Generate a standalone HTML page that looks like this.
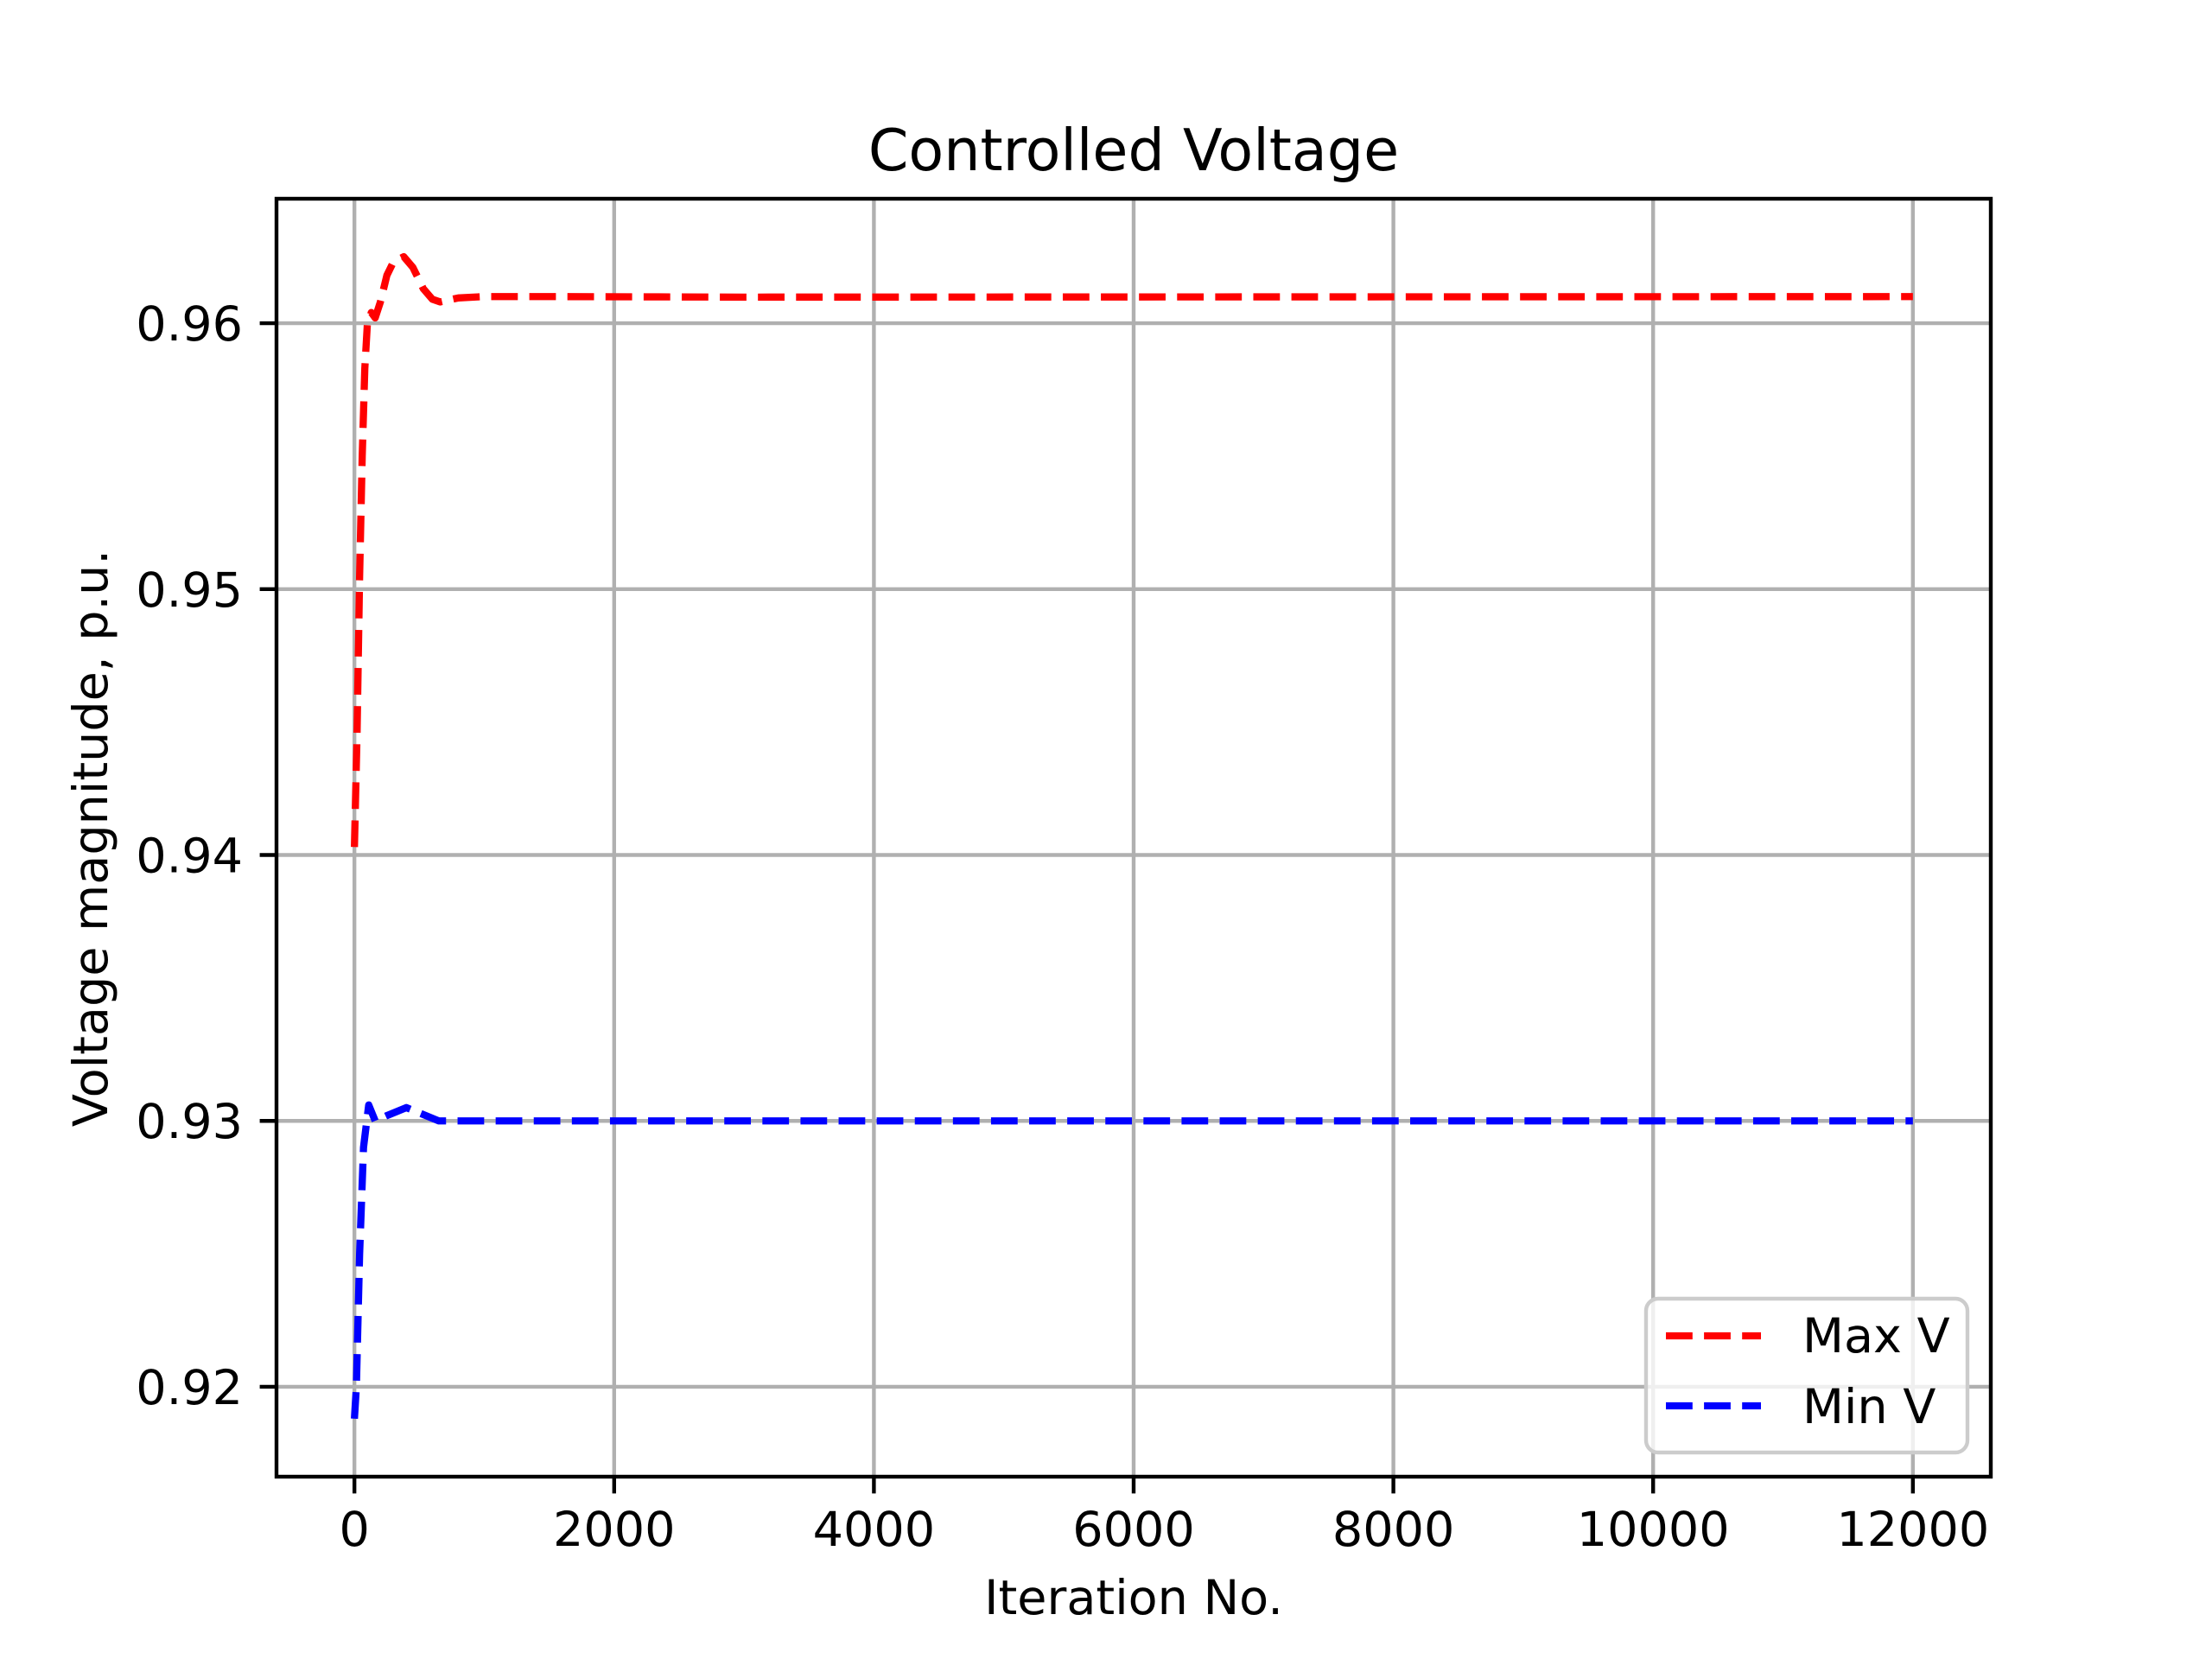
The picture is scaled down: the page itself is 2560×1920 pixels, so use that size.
<!DOCTYPE html>
<html><head><meta charset="utf-8"><style>
html,body{margin:0;padding:0;background:#fff}
svg{display:block}
text{font-family:"DejaVu Sans","Liberation Sans",sans-serif;fill:#000}
</style></head><body>
<svg id="chart" width="2560" height="1920" viewBox="0 0 2560 1920" xmlns="http://www.w3.org/2000/svg">
<rect width="2560" height="1920" fill="#fff"/>
<g id="grid"></g>
<g id="series"></g>
<rect x="320" y="230" width="1984" height="1479" fill="none" stroke="#000" stroke-width="4.4"/>
<g id="ticks"></g>
<text x="1312" y="197" font-size="66.7" text-anchor="middle">Controlled Voltage</text>
<text x="1312" y="1868" font-size="55.6" text-anchor="middle">Iteration No.</text>
<text transform="translate(124,970) rotate(-90)" font-size="55.6" text-anchor="middle">Voltage magnitude, p.u.</text>
<g>
<rect x="1905" y="1503" width="372" height="178" rx="14" fill="#fff" fill-opacity="0.8" stroke="#cccccc" stroke-width="4.4"/>
<line x1="1928" y1="1546" x2="2038" y2="1546" stroke="#ff0000" stroke-width="8.33" stroke-dasharray="30.8,13.3"/>
<text x="2086" y="1565" font-size="55.6">Max V</text>
<line x1="1928" y1="1627" x2="2038" y2="1627" stroke="#0000ff" stroke-width="8.33" stroke-dasharray="30.8,13.3"/>
<text x="2086" y="1647" font-size="55.6">Min V</text>
</g>
</svg>
<script>
const xTicks=[0,2000,4000,6000,8000,10000,12000];
const xTickLabels=["0","2000","4000","6000","8000","10000","12000"];
const yTicks=[0.92,0.93,0.94,0.95,0.96];
const yTickLabels=["0.92","0.93","0.94","0.95","0.96"];
const maxIter=[0,20,40,60,80,100,130,160,200,250,300,380,450,530,600,660,800,1000,1500,3000,12000];
const maxV=[0.9403,0.9445,0.9505,0.9550,0.9583,0.9600,0.9604,0.9602,0.9608,0.9618,0.9623,0.9625,0.9621,0.9613,0.9609,0.9608,0.96095,0.9610,0.9610,0.96098,0.9610];
const minIter=[0,15,40,70,110,160,250,400,500,650,1000,3000,12000];
const minV=[0.9188,0.9200,0.9250,0.9290,0.9306,0.9300,0.9302,0.9305,0.9303,0.9300,0.9300,0.9300,0.9300];
const X0=320,X1=2304,Y0=230,Y1=1709,xmin=-600,xmax=12600,ymin=0.91662,ymax=0.96468;
const sx=v=>X0+(v-xmin)/(xmax-xmin)*(X1-X0);
const sy=v=>Y1-(v-ymin)/(ymax-ymin)*(Y1-Y0);
const NS="http://www.w3.org/2000/svg";
const grid=document.getElementById('grid'),ticks=document.getElementById('ticks'),series=document.getElementById('series');
function mk(tag,attrs,parent){const e=document.createElementNS(NS,tag);for(const k in attrs)e.setAttribute(k,attrs[k]);parent.appendChild(e);return e;}
xTicks.forEach((t,i)=>{
  const x=sx(t);
  const g=mk('line',{x1:x,y1:Y0,x2:x,y2:Y1,stroke:'#b0b0b0','stroke-width':4.4},grid);
  
  
  const tk=mk('line',{x1:x,y1:Y1,x2:x,y2:Y1+19.4,stroke:'#000','stroke-width':4.4},ticks);
  
  
  const tx=mk('text',{x:x,y:1789,'font-size':55.6,'text-anchor':'middle'},ticks);
  tx.textContent=xTickLabels[i];
  
  
});
yTicks.forEach((t,i)=>{
  const y=sy(t);
  const g=mk('line',{x1:X0,y1:y,x2:X1,y2:y,stroke:'#b0b0b0','stroke-width':4.4},grid);
  
  
  const tk=mk('line',{x1:X0-19.4,y1:y,x2:X0,y2:y,stroke:'#000','stroke-width':4.4},ticks);
  
  
  const tx=mk('text',{x:281,y:y+20,'font-size':55.6,'text-anchor':'end'},ticks);
  tx.textContent=yTickLabels[i];
  
  
});
function line(xs,ys,color,name){
  const d=xs.map((v,i)=>(i?'L':'M')+sx(v).toFixed(2)+','+sy(ys[i]).toFixed(2)).join(' ');
  const p=mk('path',{d:d,fill:'none',stroke:color,'stroke-width':8.33,'stroke-dasharray':'30.8,13.3','stroke-linejoin':'round'},series);
  
  
}
line(maxIter,maxV,'#ff0000','max-v-line');
line(minIter,minV,'#0000ff','min-v-line');
</script>
</body></html>
